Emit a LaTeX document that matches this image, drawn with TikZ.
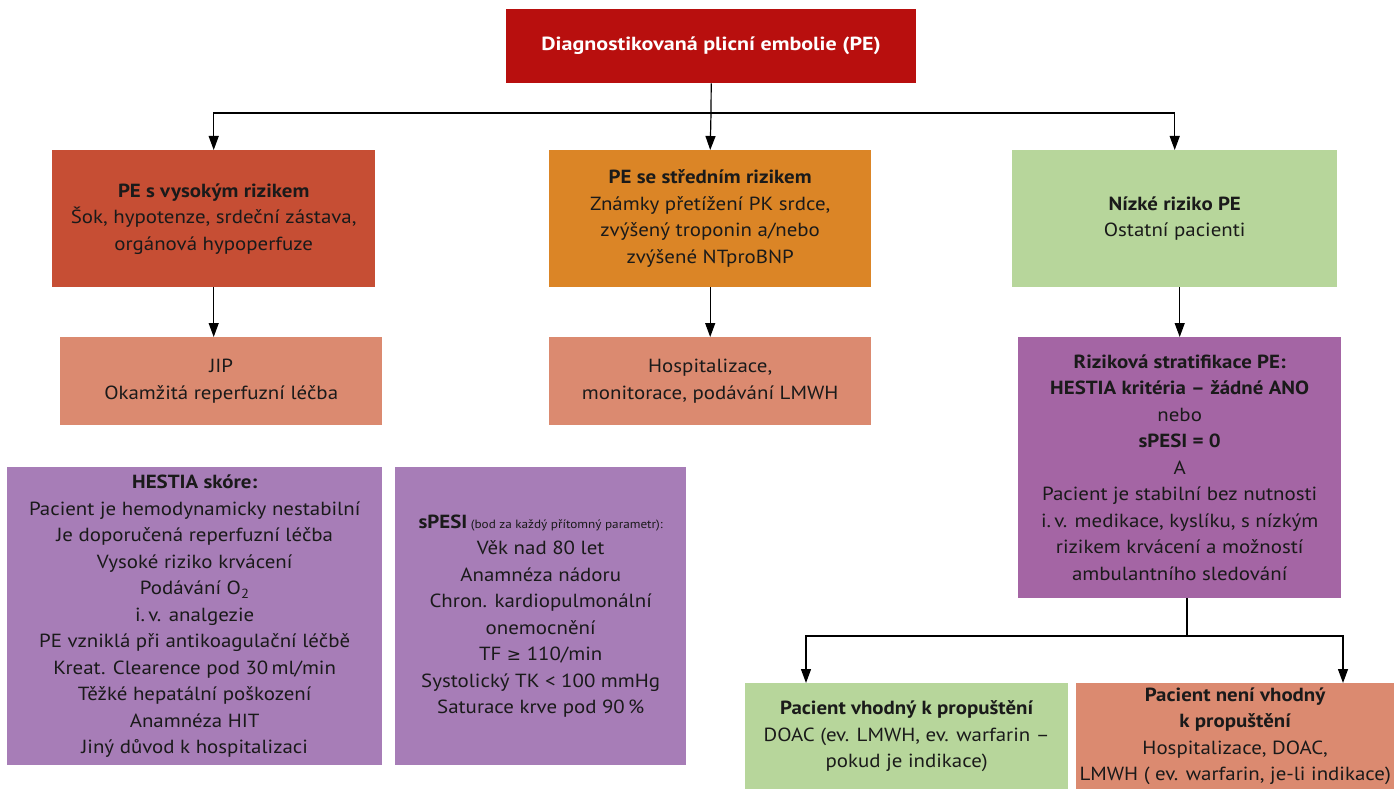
\documentclass[tikz,border=0pt]{standalone}
\usepackage{fontspec}
\setmainfont{PT Sans}[FakeStretch=1.1]
\newfontfamily\widefont{PT Sans}[FakeStretch=1.16]
\newfontfamily\djv{DejaVu Sans}
\usetikzlibrary{arrows.meta}
\definecolor{topred}{HTML}{B80F0E}
\definecolor{highred}{HTML}{C64E34}
\definecolor{midorange}{HTML}{DB8526}
\definecolor{lowgreen}{HTML}{B7D69B}
\definecolor{salmon}{HTML}{DB8A70}
\definecolor{purpleA}{HTML}{A77DB7}
\definecolor{purpleB}{HTML}{A465A4}
\definecolor{txt}{HTML}{1A1A1A}
\begin{document}
\begin{tikzpicture}[x=1pt,y=-1pt,
  box/.style={rectangle, inner sep=0pt, align=center, anchor=north west, text=txt,
    font=\fontsize{19}{26.5}\selectfont},
  arr/.style={-{Triangle[length=14pt,width=10pt]}, line width=1.2pt},
  ln/.style={line width=1.2pt}]
\useasboundingbox (0,0) rectangle (1394,789);
\node[box, fill=topred, minimum width=410, minimum height=74, text=white,
  font=\widefont\bfseries\fontsize{19}{24}\selectfont] (top) at (506,9) {Diagnostikovaná plicní embolie (PE)};
\node[box, fill=highred, minimum width=323, minimum height=137] (high) at (52,150)
  {\textbf{PE s vysokým rizikem}\\Šok, hypotenze, srdeční zástava,\\orgánová hypoperfuze};
\node[box, fill=midorange, minimum width=322, minimum height=137] (mid) at (549,150)
  {\textbf{PE se středním rizikem}\\Známky přetížení PK srdce,\\zvýšený troponin a/nebo\\zvýšené NTproBNP};
\node[box, fill=lowgreen, minimum width=325, minimum height=137] (low) at (1012,150)
  {\textbf{Nízké riziko PE}\\Ostatní pacienti};
\node[box, fill=salmon, minimum width=322, minimum height=88] (jip) at (60,337)
  {JIP\\Okamžitá reperfuzní léčba};
\node[box, fill=salmon, minimum width=322, minimum height=88] (hosp) at (549,337)
  {Hospitalizace,\\monitorace, podávání LMWH};
\node[box, fill=purpleB, minimum width=323, minimum height=261] (strat) at (1018,337)
  {\textbf{Riziková stratifikace PE:}\\\textbf{HESTIA kritéria – žádné ANO}\\nebo\\\textbf{sPESI = 0}\\A\\Pacient je stabilní bez nutnosti\\i.\,v. medikace, kyslíku, s~nízkým\\rizikem krvácení a~možností\\ambulantního sledování};
\node[box, fill=purpleA, minimum width=375, minimum height=298] (hestia) at (7,467)
  {\textbf{HESTIA skóre:}\\Pacient je hemodynamicky nestabilní\\Je doporučená reperfuzní léčba\\Vysoké riziko krvácení\\Podávání O\textsubscript{2}\\i.\,v. analgezie\\PE vzniklá při antikoagulační léčbě\\Kreat. Clearence pod 30\,ml/min\\Těžké hepatální poškození\\Anamnéza HIT\\Jiný důvod k~hospitalizaci};
\node[box, fill=purpleA, minimum width=291, minimum height=298] (spesi) at (395,467)
  {\textbf{sPESI}{\fontsize{12}{14}\selectfont\ (bod za každý přítomný parametr):}\\Věk nad 80 let\\Anamnéza nádoru\\Chron. kardiopulmonální\\onemocnění\\TF {\djv\fontsize{17}{20}\selectfont ≥} 110/min\\Systolický TK < 100 mmHg\\Saturace krve pod 90\,\%};
\node[box, fill=lowgreen, minimum width=323, minimum height=106] (ok) at (745,683)
  {\textbf{Pacient vhodný k~propuštění}\\DOAC (ev. LMWH, ev. warfarin –\\pokud je indikace)};
\node[box, fill=salmon, minimum width=318, minimum height=106] (notok) at (1076,683)
  {\textbf{Pacient není vhodný}\\\textbf{k~propuštění}\\Hospitalizace, DOAC,\\LMWH ( ev. warfarin, je-li indikace)};
% connectors
\coordinate (j1) at (711,113);
\draw[ln] (top.south) -- (j1);
\draw[arr] (j1) -| (high.north);
\draw[arr] (j1) -- (mid.north);
\draw[arr] (j1) -| (low.north);
\draw[arr] (high.south) -- (high.south |- jip.north);
\draw[arr] (mid.south) -- (hosp.north);
\draw[arr] (strat.north |- low.south) -- (strat.north);
\coordinate (j2) at (1187,636);
\coordinate (okin) at (806,683);
\coordinate (notin) at (1343,683);
\draw[ln] (j2 |- strat.south) -- (j2);
\draw[arr] (j2) -| (okin);
\draw[arr] (j2) -| (notin);
\end{tikzpicture}
\end{document}
